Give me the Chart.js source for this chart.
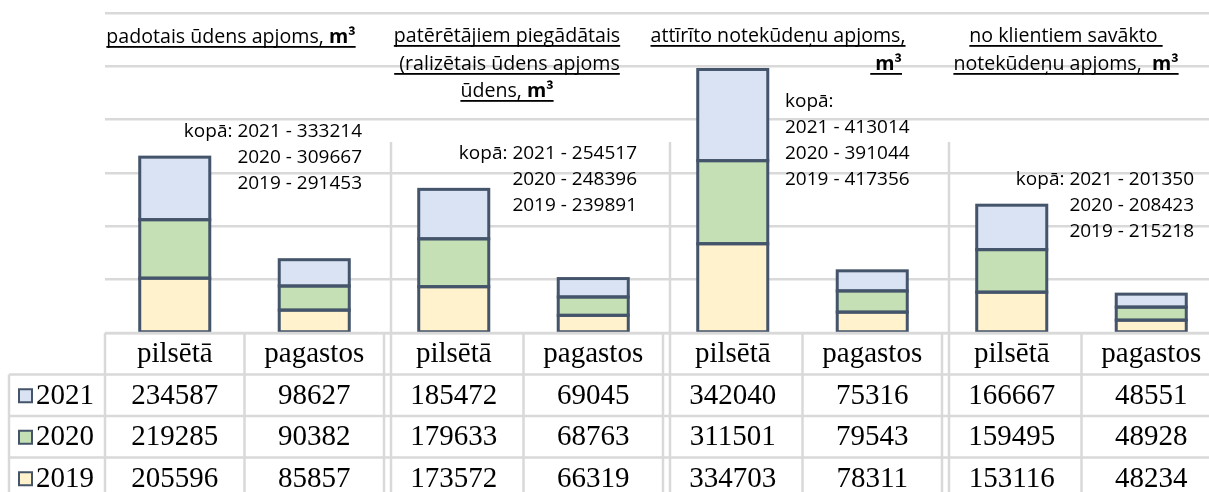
<!DOCTYPE html>
<html>
<head>
<meta charset="utf-8">
<script src="https://cdn.jsdelivr.net/npm/chart.js@4/dist/chart.umd.min.js"></script>
<style>
  html, body { margin: 0; padding: 0; background: #fff; overflow: hidden; width: 1209px; height: 492px; }
  canvas { display: block; }
</style>
</head>
<body>
<canvas id="c" width="1225" height="492"></canvas>
<script>
// ---------- DATA ----------
const categories = ['pilsētā', 'pagastos', 'pilsētā', 'pagastos', 'pilsētā', 'pagastos', 'pilsētā', 'pagastos'];
const years = ['2019', '2020', '2021'];
const values2019 = [205596, 85857, 173572, 66319, 334703, 78311, 153116, 48234];
const values2020 = [219285, 90382, 179633, 68763, 311501, 79543, 159495, 48928];
const values2021 = [234587, 98627, 185472, 69045, 342040, 75316, 166667, 48551];
const axisMax = 1200000;
const axisStep = 200000;

const groupTitles = [
  [[['padotais ūdens apjoms, ', 0], ['m³', 1]]],
  [[['patērētājiem piegādātais', 0]], [[' (ralizētais ūdens apjoms', 0]], [['ūdens, ', 0], ['m³', 1]]],
  [[['attīrīto notekūdeņu apjoms,', 0]], [[' ', 0], ['m³', 1]]],
  [[['no klientiem savākto ', 0]], [['notekūdeņu apjoms,  ', 0], ['m³', 1]]]
];
const totalsText = [
  ['kopā: 2021 - 333214', '2020 - 309667', '2019 - 291453'],
  ['kopā: 2021 - 254517', '2020 - 248396', '2019 - 239891'],
  ['kopā:', '2021 - 413014', '2020 - 391044', '2019 - 417356'],
  ['kopā: 2021 - 201350', '2020 - 208423', '2019 - 215218']
];

// ---------- STYLE / LAYOUT ----------
const fillColors = { '2019': '#fff2cc', '2020': '#c5e0b4', '2021': '#dae3f3' };
const edgeColor = '#44546a';
const gridColor = '#d9d9d9';
const sansFont = '"Open Sans", sans-serif';
const titleSize = 19.6;
const totalsSize = 19;
const serifFont = '"Liberation Serif", "Times New Roman", serif';
const serifSize = 29;

// title lines: [x, baseline, align] per line
const titleLayout = [
  [[231, 43, 'center']],
  [[507, 42, 'center'], [507, 70, 'center'], [507, 97, 'center']],
  [[778, 42, 'center'], [902, 70, 'right']],
  [[1066, 42, 'center'], [1066, 70, 'center']]
];
// totals blocks: x, first baseline, align
const totalsLayout = [
  [362, 137, 'right'],
  [637, 159, 'right'],
  [785, 107, 'left'],
  [1194, 185, 'right']
];
const lineGap = 26;
const rowH = 41.5;

function drawRich(ctx, segs, x, y, align) {
  const widths = segs.map(s => {
    ctx.font = (s[1] ? 'bold ' : '') + titleSize + 'px ' + sansFont;
    return ctx.measureText(s[0]).width;
  });
  const total = widths.reduce((a, b) => a + b, 0);
  let sx = align === 'center' ? x - total / 2 : align === 'right' ? x - total : x;
  const start = sx;
  ctx.textAlign = 'left';
  ctx.textBaseline = 'alphabetic';
  ctx.fillStyle = '#000';
  segs.forEach((s, i) => {
    ctx.font = (s[1] ? 'bold ' : '') + titleSize + 'px ' + sansFont;
    ctx.fillText(s[0], sx, y);
    sx += widths[i];
  });
  ctx.fillRect(start, y + 3, total, 1.8);
}

const barEdgePlugin = {
  id: 'barEdge',
  afterDatasetsDraw(chart) {
    const ctx = chart.ctx;
    ctx.save();
    ctx.strokeStyle = edgeColor;
    ctx.lineWidth = 3;
    chart.data.datasets.forEach((ds, di) => {
      chart.getDatasetMeta(di).data.forEach(el => {
        const p = el.getProps(['x', 'y', 'base', 'width'], true);
        const top = Math.min(p.y, p.base), h = Math.abs(p.base - p.y);
        ctx.strokeRect(p.x - p.width / 2, top, p.width, h);
      });
    });
    ctx.restore();
  }
};

const tablePlugin = {
  id: 'tablePlugin',
  afterDraw(chart) {
    const ctx = chart.ctx;
    const ca = chart.chartArea;
    const xs = chart.scales.x;
    const n = categories.length;
    const w = (ca.right - ca.left) / n;
    const bounds = [];
    for (let i = 0; i <= n; i++) bounds.push(ca.left + i * w);
    const y0 = ca.bottom;
    const H = chart.height;
    const labelLeft = 9;

    ctx.save();
    ctx.strokeStyle = gridColor;
    ctx.lineWidth = 2.5;
    ctx.beginPath();
    ctx.moveTo(bounds[0], y0); ctx.lineTo(ca.right, y0);
    for (let r = 1; r <= 3; r++) {
      const y = y0 + r * rowH;
      ctx.moveTo(labelLeft, y); ctx.lineTo(ca.right, y);
    }
    bounds.forEach(b => { ctx.moveTo(b, y0); ctx.lineTo(b, H); });
    ctx.moveTo(labelLeft, y0 + rowH); ctx.lineTo(labelLeft, H);
    [2, 4, 6].forEach(i => {
      const x = bounds[i] + 7;
      ctx.moveTo(x, ca.top + 129); ctx.lineTo(x, H);
    });
    ctx.stroke();

    // header row
    ctx.fillStyle = '#000';
    ctx.font = serifSize + 'px ' + serifFont;
    ctx.textAlign = 'center';
    ctx.textBaseline = 'middle';
    categories.forEach((c, i) => {
      ctx.fillText(c, xs.getPixelForValue(i), y0 + rowH / 2 + 1);
    });
    const rows = [['2021', values2021], ['2020', values2020], ['2019', values2019]];
    rows.forEach((row, r) => {
      const cy = y0 + (r + 1) * rowH + rowH / 2 + 1;
      ctx.textAlign = 'center';
      row[1].forEach((v, i) => ctx.fillText(String(v), xs.getPixelForValue(i), cy));
      ctx.fillStyle = fillColors[row[0]];
      ctx.fillRect(19, cy - 7, 13, 13);
      ctx.strokeStyle = edgeColor;
      ctx.lineWidth = 2;
      ctx.strokeRect(19, cy - 7, 13, 13);
      ctx.fillStyle = '#000';
      ctx.textAlign = 'left';
      ctx.fillText(row[0], 36, cy);
    });

    groupTitles.forEach((lines, g) => {
      lines.forEach((segs, l) => {
        const [x, y, al] = titleLayout[g][l];
        drawRich(ctx, segs, x, y, al);
      });
    });
    ctx.font = totalsSize + 'px ' + sansFont;
    ctx.fillStyle = '#000';
    ctx.textBaseline = 'alphabetic';
    totalsText.forEach((lines, g) => {
      const [x, y, al] = totalsLayout[g];
      ctx.textAlign = al;
      lines.forEach((t, l) => ctx.fillText(t, x, y + l * lineGap));
    });
    ctx.restore();
  }
};

const datasets = years.map((y, i) => ({
  label: y,
  data: [values2019, values2020, values2021][i],
  backgroundColor: fillColors[y],
  borderWidth: 0,
  barPercentage: 0.502,
  categoryPercentage: 1
}));

new Chart(document.getElementById('c'), {
  type: 'bar',
  data: { labels: categories, datasets },
  options: {
    responsive: false,
    animation: false,
    layout: { padding: { left: 105, top: 13, right: 4, bottom: 159 } },
    plugins: { legend: { display: false }, tooltip: { enabled: false } },
    scales: {
      x: { stacked: true, display: false },
      y: {
        stacked: true, min: 0, max: axisMax,
        ticks: { display: false, stepSize: axisStep },
        border: { display: false },
        grid: { color: gridColor, lineWidth: 2.5, drawTicks: false },
        afterFit: s => { s.width = 0; }
      }
    }
  },
  plugins: [barEdgePlugin, tablePlugin]
});
</script>
</body>
</html>
